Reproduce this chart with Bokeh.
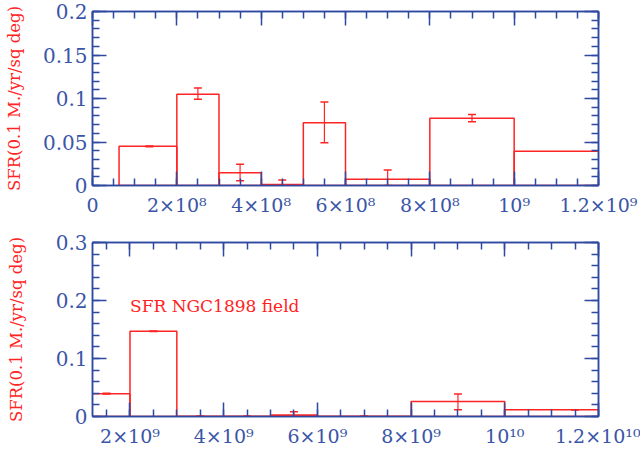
import numpy as np
from bokeh.plotting import figure
from bokeh.models import (LinearAxis, FixedTicker, Range1d, Whisker, TeeHead,
                          ColumnDataSource, Label)
from bokeh.layouts import column
from bokeh.embed import file_html
from bokeh.resources import INLINE

# ---------------- data (age bins in yr, SFR) ----------------
bin_lo = [6.3e7, 2e8, 3e8, 4e8, 5e8, 6e8, 8e8, 1e9, 2e9, 3e9, 4e9, 5e9, 6e9, 8e9, 1e10]
bin_hi = [2e8, 3e8, 4e8, 5e8, 6e8, 8e8, 1e9, 2e9, 3e9, 4e9, 5e9, 6e9, 8e9, 1e10, 1.3e10]
sfr = [0.045, 0.105, 0.0146, 0.0012, 0.072, 0.0073, 0.0774, 0.0394,
       0.1469, 0.0005, 0.0003, 0.0025, 0.0004, 0.0258, 0.0115]
err_x = [1.35e8, 2.5e8, 3.5e8, 4.5e8, 5.5e8, 7e8, 9e8, 1.5e9,
         2.5e9, 3.5e9, 4.5e9, 5.5e9, 7e9, 9e9, 1.15e10]
err_lo = [0.0445, 0.099, 0.0054, 0.0005, 0.049, 0.0, 0.0732, 0.0388,
          0.1464, 0.0, 0.0003, 0.0, 0.0, 0.0115, 0.0115]
err_hi = [0.0455, 0.112, 0.0245, 0.0063, 0.096, 0.0178, 0.0816, 0.0400,
          0.1474, 0.0010, 0.0003, 0.0080, 0.0010, 0.0390, 0.0115]

# ---------------- axes / ticks ----------------
top_xrange = (0, 1.2e9)
top_yrange = (0, 0.2)
top_xticks = [0, 2e8, 4e8, 6e8, 8e8, 1e9, 1.2e9]
top_xlabels = ["0", "2×10⁸", "4×10⁸", "6×10⁸", "8×10⁸", "10⁹", "1.2×10⁹"]
top_xminor = list(np.arange(0, 1.2e9 + 1, 5e7))
top_yticks = [0, 0.05, 0.1, 0.15, 0.2]
top_ylabels = ["0", "0.05", "0.1", "0.15", "0.2"]
top_yminor = list(np.round(np.arange(0, 0.2001, 0.01), 3))

bot_xrange = (1.2e9, 1.2e10)
bot_yrange = (0, 0.3)
bot_xticks = [2e9, 4e9, 6e9, 8e9, 1e10, 1.2e10]
bot_xlabels = ["2×10⁹", "4×10⁹", "6×10⁹", "8×10⁹", "10¹⁰", "1.2×10¹⁰"]
bot_xminor = list(np.arange(1.5e9, 1.2e10 + 1, 5e8))
bot_yticks = [0, 0.1, 0.2, 0.3]
bot_ylabels = ["0", "0.1", "0.2", "0.3"]
bot_yminor = list(np.round(np.arange(0, 0.3001, 0.02), 3))

ylabel = "SFR(0.1 M./yr/sq deg)"
annot = "SFR NGC1898 field"

BLUE = "#2e4aa0"
TICKBLUE = "#3a55a8"
RED = "#ff2424"
FONT = "DejaVu Serif"


def style_axis(ax, ticks, minor, labels=None, show_labels=True):
    ax.ticker = FixedTicker(ticks=ticks, minor_ticks=minor)
    ax.axis_line_color = BLUE
    ax.axis_line_width = 1.5
    ax.major_tick_line_color = BLUE
    ax.major_tick_line_width = 1.5
    ax.minor_tick_line_color = BLUE
    ax.minor_tick_line_width = 1.5
    ax.major_tick_in = 14
    ax.major_tick_out = 0
    ax.minor_tick_in = 7
    ax.minor_tick_out = 0
    if show_labels:
        ax.major_label_overrides = {t: l for t, l in zip(ticks, labels)}
        ax.major_label_text_font = FONT
        ax.major_label_text_font_size = "19px"
        ax.major_label_text_color = TICKBLUE
    else:
        ax.major_label_text_color = None
        ax.major_label_text_font_size = "1px"
        ax.major_label_standoff = 0


def make_panel(height, xr, yr, xt, xl, xm, yt, yl, ym, border_top, border_bottom, ylab_standoff):
    p = figure(width=640, height=height, output_backend="svg", toolbar_location=None,
               x_range=Range1d(*xr), y_range=Range1d(*yr),
               min_border_left=92, min_border_right=42,
               min_border_top=border_top, min_border_bottom=border_bottom)
    p.grid.visible = False
    p.outline_line_color = BLUE
    p.outline_line_width = 1.5
    p.background_fill_color = "white"
    p.border_fill_color = "white"

    style_axis(p.xaxis[0], xt, xm, xl)
    p.xaxis[0].major_label_standoff = 8
    style_axis(p.yaxis[0], yt, ym, yl)
    p.yaxis[0].major_label_text_font_size = "20px"
    p.yaxis[0].major_label_standoff = 5
    p.yaxis[0].axis_label = ylabel
    p.yaxis[0].axis_label_text_font = FONT
    p.yaxis[0].axis_label_text_font_size = "16.5px"
    p.yaxis[0].axis_label_text_font_style = "normal"
    p.yaxis[0].axis_label_text_color = RED
    p.yaxis[0].axis_label_standoff = ylab_standoff

    ax_r = LinearAxis()
    style_axis(ax_r, yt, ym, show_labels=False)
    p.add_layout(ax_r, "right")
    ax_t = LinearAxis()
    style_axis(ax_t, xt, xm, show_labels=False)
    p.add_layout(ax_t, "above")

    p.quad(left=bin_lo, right=bin_hi, bottom=0, top=sfr,
           fill_color=None, line_color=RED, line_width=1.5)

    sel = [i for i in range(len(err_x)) if xr[0] < err_x[i] < xr[1]]
    src = ColumnDataSource(dict(x=[err_x[i] for i in sel],
                                lower=[err_lo[i] for i in sel],
                                upper=[err_hi[i] for i in sel]))
    w = Whisker(source=src, base="x", lower="lower", upper="upper", dimension="height",
                line_color=RED, line_width=1.2,
                upper_head=TeeHead(size=8, line_color=RED, line_width=1.5),
                lower_head=TeeHead(size=8, line_color=RED, line_width=1.5))
    p.add_layout(w)
    return p


p1 = make_panel(226, top_xrange, top_yrange, top_xticks, top_xlabels, top_xminor,
                top_yticks, top_ylabels, top_yminor, 11, 41, 16)
p2 = make_panel(224, bot_xrange, bot_yrange, bot_xticks, bot_xlabels, bot_xminor,
                bot_yticks, bot_ylabels, bot_yminor, 16, 34, 27)

p2.add_layout(Label(x=2e9, y=0.19, text=annot, text_font=FONT, text_font_size="17px",
                    text_color=RED, text_baseline="alphabetic"))

layout = column(p1, p2, spacing=0)
open("out.html", "w").write(file_html(layout, INLINE))
